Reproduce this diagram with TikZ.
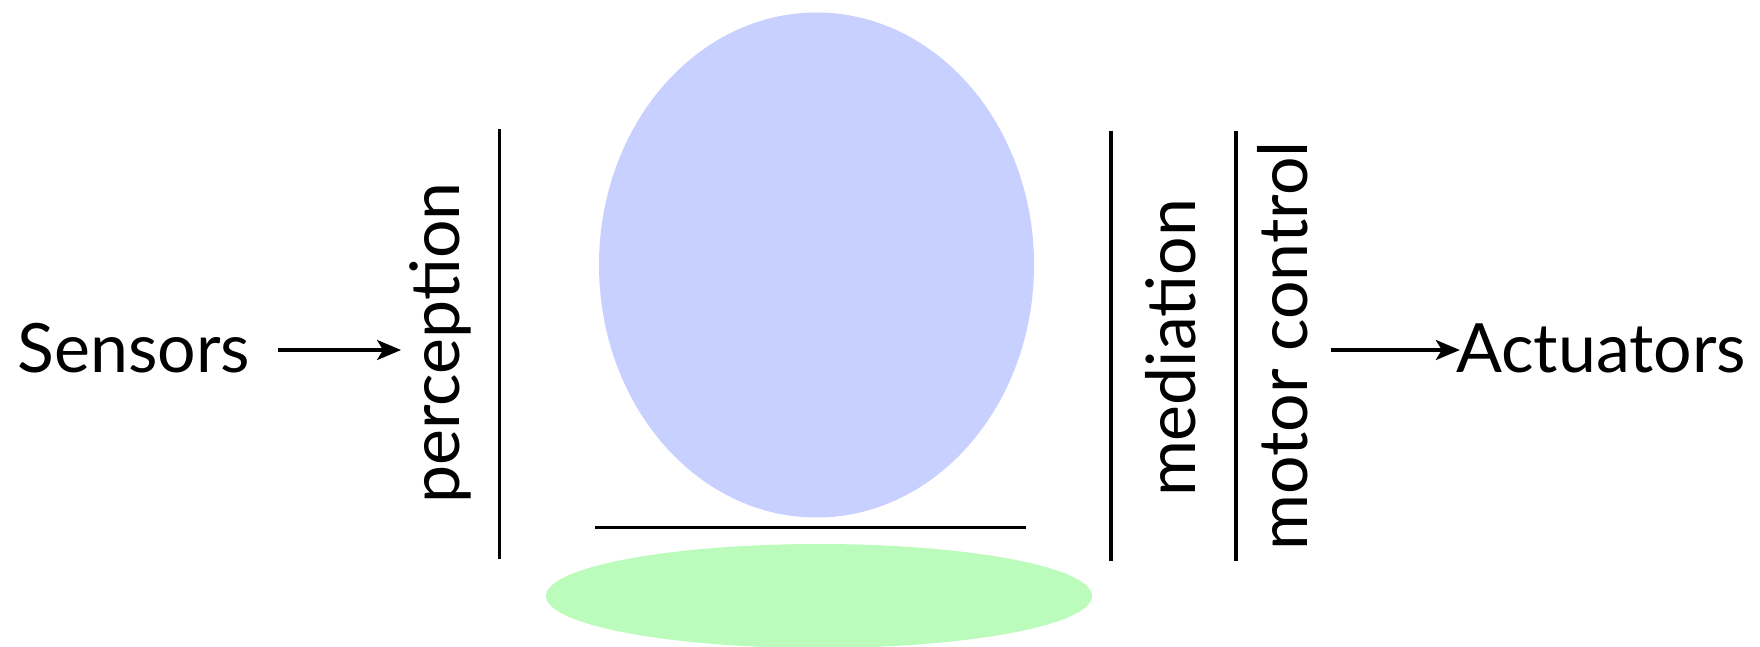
\documentclass[tikz,border=0pt]{standalone}
\usepackage{fontspec}
\setmainfont{Lato}
\usetikzlibrary{shapes.geometric,arrows.meta}
\definecolor{mindblue}{RGB}{200,208,255}
\definecolor{bodygreen}{RGB}{187,251,187}
\begin{document}
\begin{tikzpicture}[x=1pt,y=-1pt,
  lbl/.style={font=\fontsize{68}{80}\selectfont, inner sep=0pt, anchor=center},
  vlbl/.style={lbl, rotate=90},
  bar/.style={line width=3.6pt},
  arr/.style={line width=3.2pt, -{Stealth[length=24pt,width=20pt,inset=6pt]}}]
\useasboundingbox (0,0) rectangle (1760,646);
\node[ellipse, fill=bodygreen, inner sep=0pt, minimum width=546pt, minimum height=104pt] (body) at (819,596) {};
\node[ellipse, fill=mindblue, inner sep=0pt, minimum width=435pt, minimum height=505pt] (mind) at (816.5,265) {};
\draw[bar] (595,527.5) -- (1026,527.5);
\draw[bar] (499.5,129) -- (499.5,559);
\draw[bar] (1111,131) -- (1111,561);
\draw[bar] (1236,131) -- (1236,561);
\node[lbl] (sensors) at (134,348) {Sensors};
\node[vlbl] (perception) at (440,343) {perception};
\node[vlbl] (mediation) at (1171,348) {mediation};
\node[vlbl] (motor) at (1283,346) {motor control};
\node[lbl] (actuators) at (1601,348) {Actuators};
\draw[arr] ([xshift=28pt,yshift=-2pt]sensors.east) -- ([xshift=-8pt,yshift=-2pt]sensors.east -| perception.north);
\draw[arr] ([xshift=22pt,yshift=-2pt]motor.south |- actuators.west) -- ([xshift=4pt,yshift=-2pt]actuators.west);
\end{tikzpicture}
\end{document}
